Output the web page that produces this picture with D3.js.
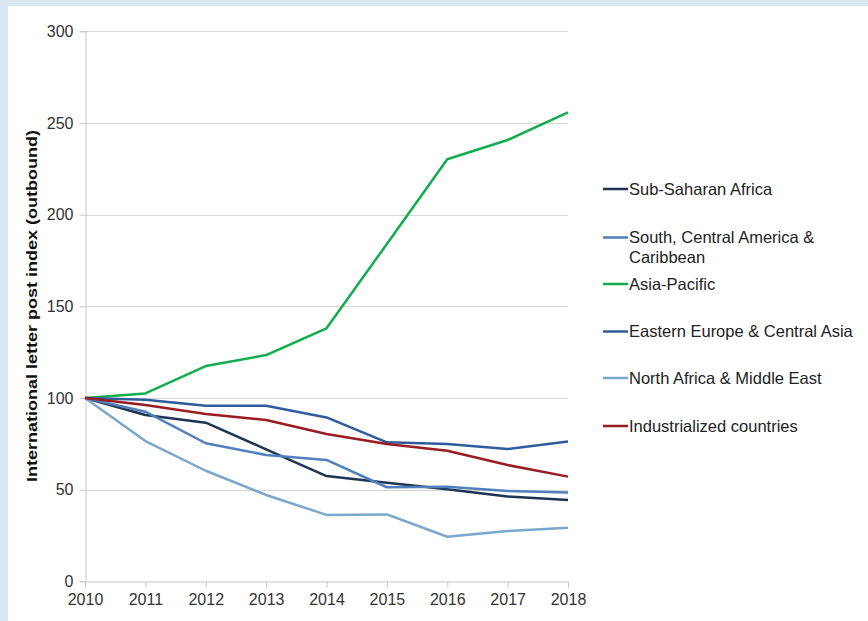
<!DOCTYPE html>
<html>
<head>
<meta charset="utf-8">
<script src="https://cdn.jsdelivr.net/npm/d3@7"></script>
<style>
  body { margin: 0; background: #ffffff; }
  svg { display: block; font-family: "Liberation Sans", Arial, sans-serif; }
</style>
</head>
<body>
<svg id="chart" width="868" height="621"></svg>
<script>
const years = [2010, 2011, 2012, 2013, 2014, 2015, 2016, 2017, 2018];
const yTicks = [0, 50, 100, 150, 200, 250, 300];

const subSaharan = [100, 90.7, 86.5, 72, 57.4, 53.8, 50.2, 46.2, 44.3];
const southAmerica = [100, 92.5, 75.3, 68.9, 66.2, 51.3, 51.6, 49.3, 48.5];
const asiaPacific = [100, 102.5, 117.4, 123.4, 138, 184, 230.2, 240.7, 255.8];
const easternEurope = [100, 99, 95.8, 95.8, 89.4, 75.8, 74.9, 72.2, 76.2];
const northAfrica = [100, 76.5, 60.3, 47.1, 36.2, 36.5, 24.3, 27.4, 29.2];
const industrialized = [100, 96.2, 91.3, 88, 80.3, 74.9, 71.2, 63.4, 57.1];

const series = [
  { name: ["Sub-Saharan Africa"], values: subSaharan, color: "#1f3352", ly: 189 },
  { name: ["South, Central America &", "Caribbean"], values: southAmerica, color: "#4f7fbd", ly: 237.5 },
  { name: ["Asia-Pacific"], values: asiaPacific, color: "#12ad4c", ly: 284 },
  { name: ["Eastern Europe & Central Asia"], values: easternEurope, color: "#2e5c9c", ly: 331.5 },
  { name: ["North Africa & Middle East"], values: northAfrica, color: "#7aa7cc", ly: 378 },
  { name: ["Industrialized countries"], values: industrialized, color: "#9a1b22", ly: 426 }
];

const svg = d3.select("#chart");

// light blue frame on top and left
svg.append("rect").attr("width", 868).attr("height", 621).attr("fill", "#d8e6f0");
svg.append("rect").attr("x", 8).attr("y", 6).attr("width", 860).attr("height", 615).attr("fill", "#ffffff");

const x = d3.scaleLinear().domain([2010, 2018]).range([85, 568]);
const y = d3.scaleLinear().domain([0, 300]).range([581.3, 31.3]);

// gridlines
svg.append("g")
  .selectAll("line")
  .data(yTicks.filter(d => d > 0))
  .join("line")
  .attr("x1", 85).attr("x2", 568)
  .attr("y1", d => Math.round(y(d)) + 0.5).attr("y2", d => Math.round(y(d)) + 0.5)
  .attr("stroke", "#d4d4d4").attr("stroke-width", 1);

// y axis
const yAxis = svg.append("g")
  .attr("transform", "translate(85.5,0)")
  .call(d3.axisLeft(y).tickValues(yTicks).tickSize(6).tickPadding(6).tickFormat(d3.format("d")));
yAxis.select(".domain").attr("stroke", "#c8c8c8");
yAxis.selectAll(".tick line").attr("stroke", "#c8c8c8");
yAxis.selectAll(".tick text").attr("fill", "#333").style("font-size", "16px").style("font-family", "Liberation Sans, Arial, sans-serif");

// x axis
const xAxis = svg.append("g")
  .attr("transform", "translate(0," + (Math.round(y(0)) + 0.5) + ")")
  .call(d3.axisBottom(x).tickValues(years).tickSize(6).tickPadding(6).tickFormat(d3.format("d")));
xAxis.select(".domain").attr("stroke", "#c8c8c8");
xAxis.selectAll(".tick line").attr("stroke", "#c8c8c8");
xAxis.selectAll(".tick text").attr("fill", "#333").style("font-size", "16px").style("font-family", "Liberation Sans, Arial, sans-serif");

// y axis title (reference text is stretched along its length)
svg.append("text")
  .attr("transform", "translate(36.5,306) rotate(-90)")
  .attr("text-anchor", "middle")
  .attr("textLength", 352)
  .attr("lengthAdjust", "spacingAndGlyphs")
  .style("font-size", "14px")
  .style("font-weight", "bold")
  .attr("fill", "#111")
  .text("International letter post index (outbound)");

// lines
const line = d3.line()
  .x((d, i) => x(years[i]))
  .y(d => y(d));

svg.append("g")
  .selectAll("path")
  .data(series)
  .join("path")
  .attr("d", d => line(d.values))
  .attr("fill", "none")
  .attr("stroke", d => d.color)
  .attr("stroke-width", 2.5)
  .attr("stroke-linejoin", "round");

// legend
const legend = svg.append("g");
series.forEach(s => {
  legend.append("line")
    .attr("x1", 603).attr("x2", 628)
    .attr("y1", s.ly).attr("y2", s.ly)
    .attr("stroke", s.color).attr("stroke-width", 2.5);
  const t = legend.append("text")
    .attr("x", 629).attr("y", s.ly)
    .attr("fill", "#222")
    .style("font-size", "16.5px");
  s.name.forEach((n, i) => {
    t.append("tspan").attr("x", 629).attr("dy", i === 0 ? "0.35em" : "1.18em").text(n);
  });
});
</script>
</body>
</html>
